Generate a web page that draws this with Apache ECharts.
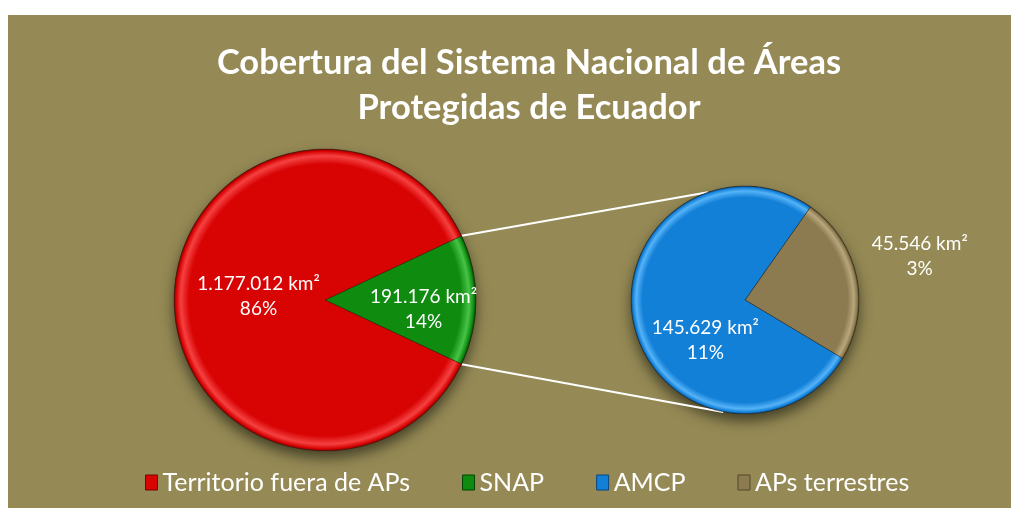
<!DOCTYPE html>
<html>
<head>
<meta charset="utf-8">
<script src="https://cdn.jsdelivr.net/npm/echarts@6/dist/echarts.min.js"></script>
<style>
html, body { margin: 0; padding: 0; background: #fff; }
#chartDiv { position: absolute; left: 8px; top: 15px; width: 1003px; height: 493px; background: #958a55; }
</style>
</head>
<body>
<div id="chartDiv"></div>
<script>
var mainNames = ['Territorio fuera de APs', 'SNAP'];
var mainValues = [1177012, 191176];
var subNames = ['AMCP', 'APs terrestres'];
var subValues = [145629, 45546];
var legendNames = ['Territorio fuera de APs', 'SNAP', 'AMCP', 'APs terrestres'];

// base / light rim / dark edge
var palette = {
    'Territorio fuera de APs': ['#d80303', '#f54141', '#7a0000'],
    'SNAP': ['#0f8b10', '#47c447', '#054405'],
    'AMCP': ['#1380d8', '#55b3f7', '#0a4580'],
    'APs terrestres': ['#8c7a51', '#b8a67c', '#54462a']
};
// label nudges relative to the default inside position
var labelShift = {
    'Territorio fuera de APs': [12, -4],
    'SNAP': [20, 9],
    'AMCP': [19, 28],
    'APs terrestres': [116, -31]
};

var myChart = echarts.init(document.getElementById('chartDiv'));
window.onresize = myChart.resize;

var total = mainValues[0] + mainValues[1];
var c1 = [317, 285], r1 = 151;
var c2 = [737, 285], r2 = 114;

function fmt(v) {
    return String(v).replace(/\B(?=(\d{3})+(?!\d))/g, '.');
}

function bevel(name, c, r) {
    var p = palette[name];
    return {
        type: 'radial', x: c[0], y: c[1], r: r, global: true,
        colorStops: [
            {offset: 0, color: p[0]},
            {offset: 0.9, color: p[0]},
            {offset: 0.955, color: p[1]},
            {offset: 0.985, color: p[0]},
            {offset: 1, color: p[2]}
        ]
    };
}

function buildData(names, values, c, r) {
    var out = [];
    for (var i = names.length - 1; i >= 0; i--) {
        out.push({
            name: names[i],
            value: values[i],
            itemStyle: {color: bevel(names[i], c, r)}
        });
    }
    return out;
}

var start1 = mainValues[1] / total * 180;
var subSum = subValues[0] + subValues[1];
var start2 = 12 + subValues[1] / subSum * 180;

function onCircle(c, r, deg) {
    var a = deg * Math.PI / 180;
    return [c[0] + r * Math.cos(a), c[1] - r * Math.sin(a)];
}
var pTop1 = onCircle(c1, r1, start1), pBot1 = onCircle(c1, r1, -start1);
var pTop2 = onCircle(c2, r2, 109), pBot2 = onCircle(c2, r2, -101);

var labelOpt = {
    position: 'inside',
    color: '#fff',
    fontFamily: 'Lato',
    fontSize: 19,
    lineHeight: 25,
    formatter: function (p) {
        return fmt(p.value) + ' km²\n' + Math.round(p.value / total * 100) + '%';
    }
};

function shiftLabel(params) {
    var name = myChart.getModel().getSeriesByIndex(params.seriesIndex).getData().getName(params.dataIndex);
    var s = labelShift[name];
    return {dx: s[0], dy: s[1]};
}

function pieSeries(names, values, c, r, start) {
    return {
        type: 'pie',
        center: c,
        radius: r,
        startAngle: start,
        clockwise: true,
        silent: true,
        z: 3,
        emphasis: {disabled: true},
        itemStyle: {borderColor: 'rgba(40,30,10,0.45)', borderWidth: 1},
        label: labelOpt,
        labelLine: {show: false},
        labelLayout: shiftLabel,
        data: buildData(names, values, c, r)
    };
}

function shadowSeries(c, r, v) {
    return {
        type: 'pie',
        center: c,
        radius: r,
        silent: true,
        z: 1,
        emphasis: {disabled: true},
        label: {show: false},
        labelLine: {show: false},
        itemStyle: {
            color: '#3a3420',
            shadowBlur: 14,
            shadowOffsetY: 7,
            shadowColor: 'rgba(0,0,0,0.55)'
        },
        data: [{name: '_shadow', value: v}]
    };
}

myChart.setOption({
    animation: false,
    title: {
        text: 'Cobertura del Sistema Nacional de Áreas\nProtegidas de Ecuador',
        left: 516,
        textAlign: 'center',
        top: 20,
        textStyle: {
            color: '#fff',
            fontFamily: 'Lato',
            fontWeight: 'bold',
            fontSize: 34.5,
            lineHeight: 45
        }
    },
    legend: {
        left: 132,
        top: 450,
        itemGap: 52,
        itemWidth: 12,
        itemHeight: 15,
        icon: 'rect',
        selectedMode: false,
        textStyle: {color: '#fff', fontFamily: 'Lato', fontSize: 25},
        data: legendNames.map(function (n) {
            return {name: n, itemStyle: {color: palette[n][0], borderColor: palette[n][2], borderWidth: 1}};
        })
    },
    graphic: [
        {type: 'line', z: 2, silent: true,
         shape: {x1: pTop1[0], y1: pTop1[1], x2: pTop2[0], y2: pTop2[1]},
         style: {stroke: '#fff', lineWidth: 2}},
        {type: 'line', z: 2, silent: true,
         shape: {x1: pBot1[0], y1: pBot1[1], x2: pBot2[0], y2: pBot2[1]},
         style: {stroke: '#fff', lineWidth: 2}}
    ],
    series: [
        shadowSeries(c1, r1, total),
        shadowSeries(c2, r2, subSum),
        pieSeries(mainNames, mainValues, c1, r1, start1),
        pieSeries(subNames, subValues, c2, r2, start2)
    ]
});
</script>
</body>
</html>
